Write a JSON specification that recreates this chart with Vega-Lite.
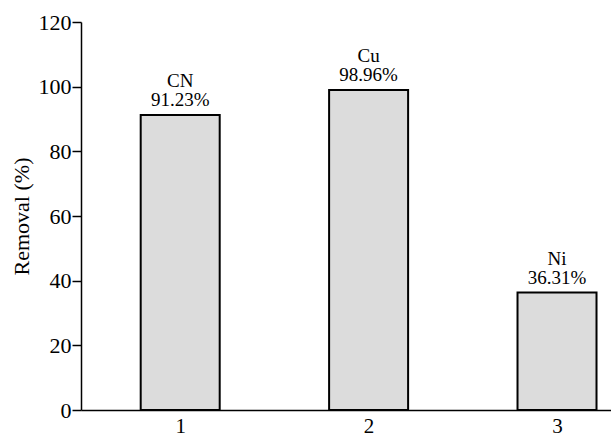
{
  "$schema": "https://vega.github.io/schema/vega-lite/v6.json",
  "width": 530,
  "height": 388,
  "autosize": {"type": "none"},
  "padding": {"left": 81, "top": 22, "right": 0, "bottom": 30},
  "background": "white",
  "config": {
    "view": {"stroke": null},
    "font": "Liberation Serif"
  },
  "data": {
    "values": [
      {"x": 1, "removal": 91.23, "metal": "CN", "label": "91.23%"},
      {"x": 2, "removal": 98.96, "metal": "Cu", "label": "98.96%"},
      {"x": 3, "removal": 36.31, "metal": "Ni", "label": "36.31%"}
    ]
  },
  "encoding": {
    "x": {
      "field": "x",
      "type": "quantitative",
      "scale": {"domain": [0.5, 3.26], "nice": false, "zero": false},
      "axis": {
        "values": [1, 2, 3],
        "title": null,
        "grid": false,
        "domainColor": "black",
        "domainWidth": 1.5,
        "ticks": false,
        "labelFontSize": 21,
        "labelColor": "black",
        "labelPadding": 5,
        "labelFont": "Liberation Serif"
      }
    },
    "y": {
      "field": "removal",
      "type": "quantitative",
      "scale": {"domain": [0, 120], "nice": false},
      "axis": {
        "values": [0, 20, 40, 60, 80, 100, 120],
        "title": "Removal (%)",
        "titleFontSize": 22,
        "titleFont": "Liberation Serif",
        "titleFontWeight": "normal",
        "titleColor": "black",
        "titlePadding": 5,
        "grid": false,
        "domainColor": "black",
        "domainWidth": 1.5,
        "tickColor": "black",
        "tickWidth": 1.5,
        "tickSize": 9,
        "labelPadding": 1,
        "labelFontSize": 22,
        "labelColor": "black",
        "labelFont": "Liberation Serif",
        "encode": {
          "ticks": {"update": {"x2": {"value": 9}}}
        }
      }
    }
  },
  "layer": [
    {
      "mark": {"type": "bar", "size": 79, "fill": "#dcdcdc", "stroke": "black", "strokeWidth": 2}
    },
    {
      "mark": {"type": "text", "baseline": "bottom", "dy": -5, "fontSize": 19, "color": "black"},
      "encoding": {"text": {"field": "label"}}
    },
    {
      "mark": {"type": "text", "baseline": "bottom", "dy": -24, "fontSize": 19, "color": "black"},
      "encoding": {"text": {"field": "metal"}}
    }
  ]
}
